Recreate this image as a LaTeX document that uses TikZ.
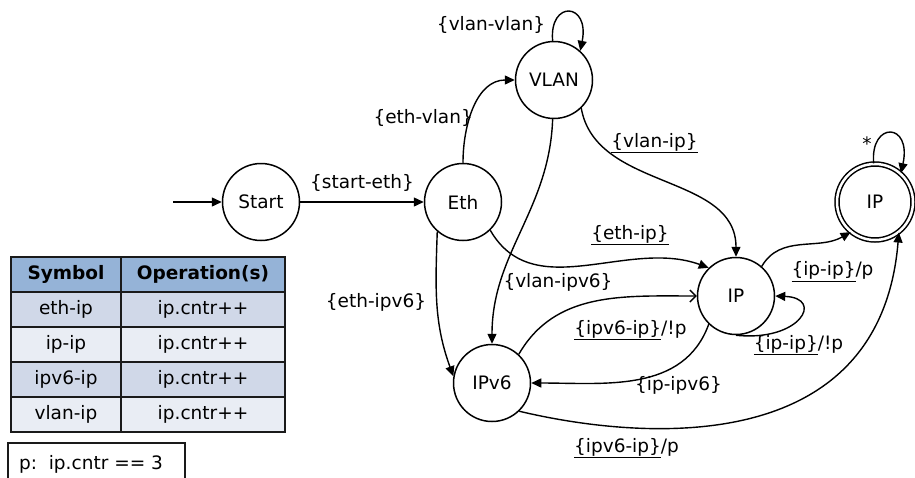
\documentclass[tikz,border=0pt]{standalone}
\usepackage{fontspec}
\setmainfont{DejaVu Sans}
\usetikzlibrary{arrows.meta}

\definecolor{hdrblue}{HTML}{95B3D7}
\definecolor{rowdark}{HTML}{D0D8E8}
\definecolor{rowlight}{HTML}{E9EDF4}
\definecolor{rule}{HTML}{1A1A1A}

\tikzset{
  state/.style={circle,draw,line width=1.5pt,minimum size=77pt,inner sep=0pt},
  finalstate/.style={state,double,double distance=2.5pt,minimum size=76pt},
  trans/.style={line width=1.4pt,-{Triangle[length=10pt,width=9pt]}},
  opentrans/.style={line width=1.4pt,-{Straight Barb[length=6pt,width=12pt]}},
  lbl/.style={anchor=base,inner sep=0pt},
  cell/.style={draw=rule,line width=1.5pt,inner sep=0pt,minimum height=35pt,
    text height=13pt,text depth=4pt},
}

\begin{document}
\begin{tikzpicture}[x=1pt,y=1pt,font=\fontsize{18.5}{22}\selectfont]
\useasboundingbox (0,0) rectangle (915,-477);
\clip (0,0) rectangle (915,-477);

% states
\node[state] (start) at (261,-202) {Start};
\node[state] (eth)   at (463,-202) {Eth};
\node[state] (vlan)  at (554,-80)  {VLAN};
\node[state] (ip)    at (736,-296) {IP};
\node[state] (ipv6)  at (492,-383) {IPv6};
\node[finalstate] (fin) at (875,-202) {IP};
\coordinate (entry) at (173,-202);

% transitions
\draw[trans] (entry) -- (start);
\draw[trans] (start) -- (eth);
\draw[trans] (eth.north) to[out=90,in=180] (vlan.west);
\draw[trans] (vlan.92) .. controls (549,0) and (590,-2) .. (vlan.48);
\draw[trans] (vlan.-92) to[out=-92,in=90] (ipv6.north);
\draw[trans] (vlan.-46) to[out=-80,in=90] (ip.north);
\draw[trans] (eth.-46) to[out=-60,in=160] (ip.134);
\draw[trans] (eth.-131) to[out=-92,in=110] (ipv6.170);
\draw[opentrans] (ipv6.47) to[out=60,in=180] (ip.west);
\draw[trans] (ip.-134) to[out=-110,in=0] (ipv6.east);
\draw[trans] (ip.-90) .. controls (800,-342) and (825,-298) .. (ip.east);
\draw[trans] (ip.49) to[out=60,in=-150] (fin.-129);
\draw[trans] (ipv6.-46) .. controls (640,-440) and (880,-460) .. (fin.-52);
\draw[trans] (fin.92) .. controls (870,-121) and (912,-122) .. (fin.48);

% labels
\node[lbl] (l-se)  at (362,-188.6) {\{start-eth\}};
\node[lbl,anchor=base east] (l-ev) at (473,-123.6) {\{eth-vlan\}};
\node[lbl] (l-vv)  at (491,-30.6)  {\{vlan-vlan\}};
\node[lbl] (l-vi)  at (654.5,-147.3) {\underline{\{vlan-ip\}}};
\node[lbl] (l-ei)  at (630,-239)   {\underline{\{eth-ip\}}};
\node[lbl] (l-v6)  at (558,-287.6) {\{vlan-ipv6\}};
\node[lbl] (l-e6)  at (376,-307.3) {\{eth-ipv6\}};
\node[lbl] (l-6i)  at (630.5,-334) {\underline{\{ipv6-ip\}}/!p};
\node[lbl] (l-i6)  at (678.5,-390.6) {\{ip-ipv6\}};
\node[lbl] (l-ii)  at (798.5,-349) {\underline{\{ip-ip\}}/!p};
\node[lbl] (l-if)  at (832.5,-275.6) {\underline{\{ip-ip\}}/p};
\node[lbl] (l-6f)  at (626.5,-452) {\underline{\{ipv6-ip\}}/p};
\node[lbl] (l-ff)  at (867,-150.4) {*};

% operation table
\node[cell,fill=hdrblue,minimum width=110pt] (sym0) at (66,-274.5) {\bfseries Symbol};
\node[cell,fill=hdrblue,minimum width=164pt] (op0) at (203,-274.5) {\bfseries Operation(s)};
\foreach \sym/\shade [count=\i] in {eth-ip/rowdark,ip-ip/rowlight,ipv6-ip/rowdark,vlan-ip/rowlight}
{
  \node[cell,fill=\shade,minimum width=110pt] (sym\i) at (66,-274.5-35*\i) {\sym};
  \node[cell,fill=\shade,minimum width=164pt] (op\i) at (203,-274.5-35*\i) {ip.cntr++};
}

% predicate box
\node[draw=rule,line width=1.8pt,minimum width=177pt,minimum height=50pt,
  anchor=north west] (pred) at (7,-442) {};
\node[lbl] (predtext) at (91,-469.5) {p:\ \ ip.cntr == 3};

\end{tikzpicture}
\end{document}
